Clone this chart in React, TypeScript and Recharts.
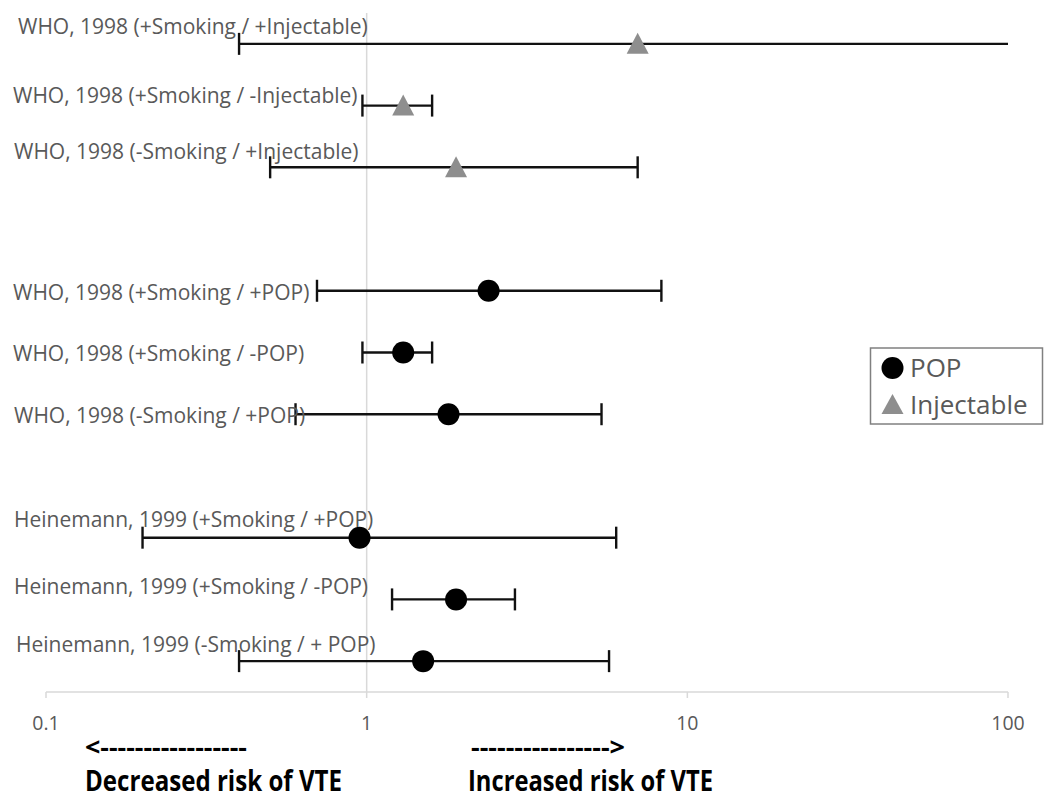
import React from 'react';
import { ScatterChart, Scatter, XAxis, YAxis, ErrorBar, ReferenceLine } from 'recharts';

// ---------- data ----------
const studyLabels = [
  'WHO, 1998 (+Smoking / +Injectable)',
  'WHO, 1998 (+Smoking / -Injectable)',
  'WHO, 1998 (-Smoking / +Injectable)',
  'WHO, 1998 (+Smoking / +POP)',
  'WHO, 1998 (+Smoking / -POP)',
  'WHO, 1998 (-Smoking / +POP)',
  'Heinemann, 1999 (+Smoking / +POP)',
  'Heinemann, 1999 (+Smoking / -POP)',
  'Heinemann, 1999 (-Smoking / + POP)',
];
const studyGroupSizes = [3, 3, 3];
const studySeries = ['Injectable', 'Injectable', 'Injectable', 'POP', 'POP', 'POP', 'POP', 'POP', 'POP'];
const oddsRatios = [7.0, 1.3, 1.9, 2.4, 1.3, 1.8, 0.95, 1.9, 1.5];
const ciLower = [0.4, 0.97, 0.5, 0.7, 0.97, 0.6, 0.2, 1.2, 0.4];
const ciUpper = [110, 1.6, 7.0, 8.3, 1.6, 5.4, 6.0, 2.9, 5.7];
const xTicks = [0.1, 1, 10, 100];
const seriesNames = ['POP', 'Injectable'];
const leftNote = '<-----------------';
const leftCaption = 'Decreased risk of VTE';
const rightNote = '---------------->';
const rightCaption = 'Increased risk of VTE';

// ---------- layout / style constants ----------
const labelLayout = [
  { x: 18, dy: -17 },
  { x: 13, dy: -10 },
  { x: 14, dy: -16 },
  { x: 13, dy: 2 },
  { x: 13, dy: 1 },
  { x: 14, dy: 1 },
  { x: 14, dy: -18 },
  { x: 14, dy: -12.5 },
  { x: 16, dy: -17 },
];
const FONT = '"Open Sans", sans-serif';
const TEXT_GRAY = '#595959';
const TRI_GRAY = '#8e8e8e';
const PLOT = { left: 46, top: 13, right: 1008, bottom: 692 };

// slot index per row (a blank slot between groups)
const slots: number[] = [];
{
  let s = 0;
  studyGroupSizes.forEach((n, g) => {
    for (let i = 0; i < n; i++) slots.push(s++);
    if (g < studyGroupSizes.length - 1) s++;
  });
}
const totalSlots = slots[slots.length - 1] + 1;

const rows = studyLabels.map((label, i) => ({
  label,
  series: studySeries[i],
  or: oddsRatios[i],
  slot: slots[i],
  err: [oddsRatios[i] - ciLower[i], ciUpper[i] - oddsRatios[i]],
  idx: i,
}));

const seriesData = seriesNames.map((name) => rows.filter((r) => r.series === name));

const CircleShape = (props: any) => <circle cx={props.cx} cy={props.cy} r={11} fill="#000" />;
const TriangleShape = (props: any) => {
  const { cx, cy } = props;
  return <polygon points={`${cx},${cy - 11} ${cx + 11},${cy + 10} ${cx - 11},${cy + 10}`} fill={TRI_GRAY} />;
};

const YTick = (props: any) => {
  const { y, payload } = props;
  const idx = slots.indexOf(payload.value);
  if (idx < 0) return null;
  const lay = labelLayout[idx];
  return (
    <text x={lay.x} y={y + lay.dy + 7.5} fill={TEXT_GRAY} fontSize={21} fontFamily={FONT} textAnchor="start">
      {studyLabels[idx]}
    </text>
  );
};

const XTick = (props: any) => {
  const { x, y, payload } = props;
  return (
    <text x={x} y={y + 30} fill={TEXT_GRAY} fontSize={19.5} fontFamily={FONT} textAnchor="middle">
      {String(payload.value)}
    </text>
  );
};

export default function App() {
  return (
    <div style={{ position: 'absolute', left: 0, top: 0, width: 1050, height: 803, background: '#fff' }}>
      <svg width={0} height={0} style={{ position: 'absolute' }}>
        <defs>
          <clipPath id="plotAreaClip" clipPathUnits="userSpaceOnUse">
            <rect x={PLOT.left - 20} y={PLOT.top - 20} width={PLOT.right - PLOT.left + 20} height={PLOT.bottom - PLOT.top + 40} />
          </clipPath>
        </defs>
      </svg>
      <ScatterChart width={1050} height={803} margin={{ top: 13, right: 42, bottom: 71, left: 0 }}>
        <XAxis
          type="number"
          dataKey="or"
          scale="log"
          domain={[0.1, 100]}
          ticks={xTicks}
          allowDataOverflow
          interval={0}
          height={40}
          axisLine={{ stroke: '#d9d9d9', strokeWidth: 1.5 }}
          tickLine={{ stroke: '#d9d9d9', strokeWidth: 1.5 }}
          tickSize={6}
          tick={<XTick />}
        />
        <YAxis
          type="number"
          dataKey="slot"
          domain={[-0.5, totalSlots - 0.5]}
          reversed
          ticks={slots}
          interval={0}
          width={46}
          axisLine={false}
          tickLine={false}
          tick={<YTick />}
        />
        <ReferenceLine x={1} stroke="#d9d9d9" strokeWidth={1.5} />
        <Scatter name={seriesNames[0]} data={seriesData[0]} shape={<CircleShape />} isAnimationActive={false}>
          <ErrorBar dataKey="err" direction="x" width={11} stroke="#111" strokeWidth={2.4} clipPath="url(#plotAreaClip)" />
        </Scatter>
        <Scatter name={seriesNames[1]} data={seriesData[1]} shape={<TriangleShape />} isAnimationActive={false}>
          <ErrorBar dataKey="err" direction="x" width={11} stroke="#111" strokeWidth={2.4} clipPath="url(#plotAreaClip)" />
        </Scatter>
      </ScatterChart>
      <svg width={1050} height={803} style={{ position: 'absolute', left: 0, top: 0, pointerEvents: 'none' }}>
        <rect x={870.5} y={348} width={172} height={76} fill="#fff" stroke="#808080" strokeWidth={1.5} />
        <circle cx={892.5} cy={368} r={11} fill="#000" />
        <text x={910} y={377} fontSize={26} fontFamily={FONT} fill={TEXT_GRAY}>{seriesNames[0]}</text>
        <polygon points="892.5,394 903.5,414 881.5,414" fill={TRI_GRAY} />
        <text x={910} y={413.5} fontSize={26} fontFamily={FONT} fill={TEXT_GRAY}>{seriesNames[1]}</text>

        <text x={85} y={756} fontSize={25} fontWeight="bold" fontFamily={FONT} fill="#000" textLength={162} lengthAdjust="spacingAndGlyphs">{leftNote}</text>
        <text x={85} y={791} fontSize={28} fontWeight="bold" fontFamily={FONT} fill="#000" textLength={257} lengthAdjust="spacingAndGlyphs">{leftCaption}</text>
        <text x={471} y={756} fontSize={25} fontWeight="bold" fontFamily={FONT} fill="#000" textLength={154} lengthAdjust="spacingAndGlyphs">{rightNote}</text>
        <text x={468} y={791} fontSize={28} fontWeight="bold" fontFamily={FONT} fill="#000" textLength={245} lengthAdjust="spacingAndGlyphs">{rightCaption}</text>
      </svg>
    </div>
  );
}
